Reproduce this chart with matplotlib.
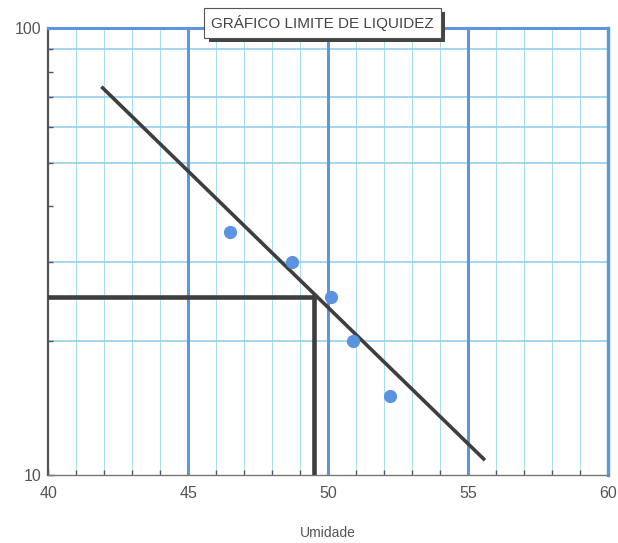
import matplotlib
matplotlib.use('Agg')

import matplotlib.pyplot as plt
import matplotlib.patheffects as pe
from matplotlib.ticker import FixedLocator, NullFormatter

# dados do ensaio
umidade = [46.5, 48.7, 50.1, 50.9, 52.2]
golpes = [35, 30, 25, 20, 15]

# reta de ajuste (extremos)
reta_x = [41.9, 55.6]
reta_y = [74, 10.8]

# limite de liquidez (25 golpes)
ll_umidade = 49.5
ll_golpes = 25

x_major = [40, 45, 50, 55, 60]
x_minor = list(range(40, 61))
y_major = [10, 100]
y_minor = [20, 30, 40, 50, 60, 70, 80, 90]
y_grid = [20, 30, 50, 60, 70, 90]

plt.rcParams['font.family'] = ['Liberation Sans', 'DejaVu Sans']

fig = plt.figure(figsize=(6.18, 5.43), dpi=100)
ax = fig.add_axes([0.078, 0.125, 0.906, 0.823])

ax.set_yscale('log')
ax.set_xlim(40, 60)
ax.set_ylim(10, 100)

# grade
for x in x_minor:
    if x not in x_major:
        ax.axvline(x, color='#a9dcf2', lw=0.7, zorder=1)
for x in x_major[1:-1]:
    ax.axvline(x, color='#5c95e2', lw=2.2, zorder=2)
for y in y_grid:
    ax.axhline(y, color='#8ccde8', lw=1.1, zorder=1)

ax.spines['top'].set_color('#5c95e2')
ax.spines['top'].set_linewidth(2.2)
ax.spines['right'].set_color('#5c95e2')
ax.spines['right'].set_linewidth(2.4)
ax.spines['left'].set_color('#555555')
ax.spines['left'].set_linewidth(1.6)
ax.spines['bottom'].set_color('#777777')
ax.spines['bottom'].set_linewidth(1.0)

ax.xaxis.set_major_locator(FixedLocator(x_major))
ax.xaxis.set_minor_locator(FixedLocator(x_minor))
ax.yaxis.set_major_locator(FixedLocator(y_major))
ax.yaxis.set_minor_locator(FixedLocator(y_minor))
ax.yaxis.set_minor_formatter(NullFormatter())
ax.set_yticklabels(['10', '100'])

ax.tick_params(axis='both', which='both', direction='in', colors='#555555',
               labelsize=11.5, labelcolor='#555555')
ax.tick_params(axis='both', which='major', length=4, width=1)
ax.tick_params(axis='both', which='minor', length=3.5, width=1)
ax.tick_params(axis='x', pad=8)
ax.tick_params(axis='y', pad=5)

# pontos e reta
ax.plot(umidade, golpes, 'o', color='#5b93e0', markersize=8.5, zorder=5)
ax.plot(reta_x, reta_y, color='#3e3e3e', lw=2.6, solid_capstyle='butt', zorder=4)

# linhas do limite de liquidez
ax.plot([40, ll_umidade], [ll_golpes, ll_golpes], color='#3e3e3e', lw=3.3,
        solid_capstyle='projecting', zorder=4)
ax.plot([ll_umidade, ll_umidade], [10, ll_golpes], color='#3e3e3e', lw=3.3,
        solid_capstyle='projecting', zorder=4)

ax.set_xlabel('Umidade', fontsize=10, color='#555555', labelpad=18)

titulo = fig.text(0.522, 0.958, 'GRÁFICO LIMITE DE LIQUIDEZ', ha='center', va='center',
                  fontsize=11, color='#444444', zorder=10,
                  bbox=dict(boxstyle='square,pad=0.45', fc='white', ec='#555555', lw=0.8))
titulo.get_bbox_patch().set_path_effects([
    pe.SimplePatchShadow(offset=(3, -3), shadow_rgbFace='#444444', alpha=1.0),
    pe.Normal()])

fig.savefig('out.png', dpi=100)
